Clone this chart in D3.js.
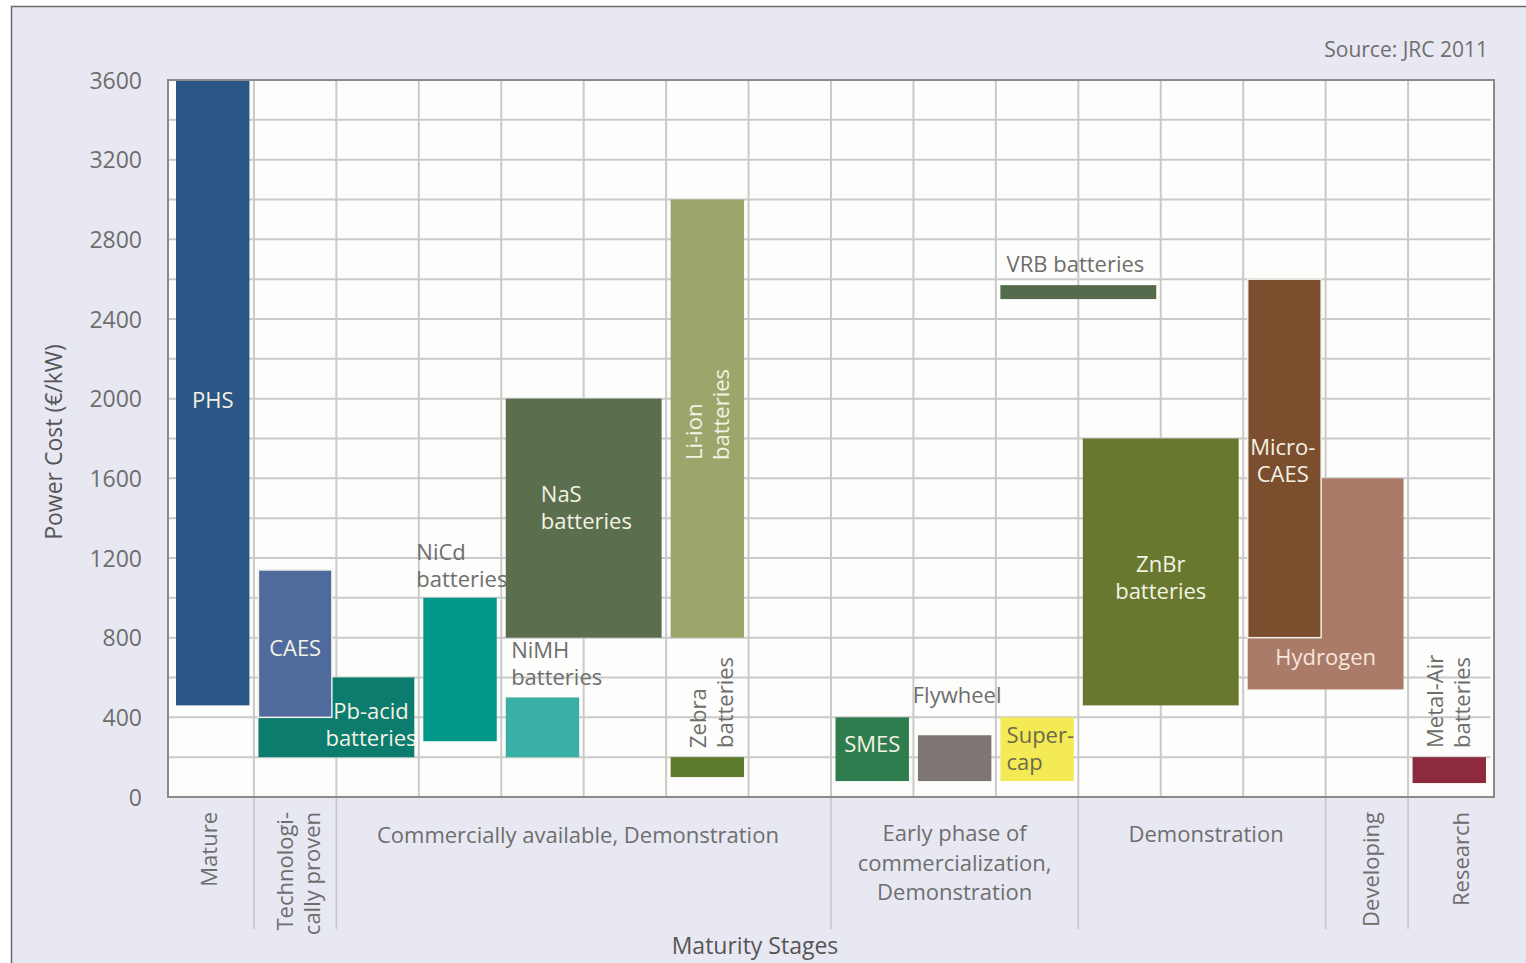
<!DOCTYPE html>
<html>
<head>
<meta charset="utf-8">
<script src="https://cdn.jsdelivr.net/npm/d3@7"></script>
<style>
  html, body { margin: 0; padding: 0; background: #ffffff; }
  svg { display: block; }
  text { font-family: "Open Sans", "Noto Sans", sans-serif; }
</style>
</head>
<body>
<svg id="chart" width="1526" height="963"></svg>
<script>
// Storage technologies: column span on the maturity axis and power-cost range (€/kW)
const techNames = ["PHS", "Pb-acid", "CAES", "NiCd", "NaS", "NiMH", "Li-ion", "Zebra",
  "SMES", "Flywheel", "Supercap", "VRB", "ZnBr", "Hydrogen", "Micro-CAES", "Metal-Air"];
const colStart = [0, 1, 1, 3, 4, 4, 6, 6, 8, 9, 10, 10, 11, 13, 13, 15];
const colEnd   = [1, 3, 2, 4, 6, 5, 7, 7, 9, 10, 11, 12, 13, 15, 14, 16];
const costLow  = [460, 200, 400, 280, 800, 200, 800, 100, 80, 80, 80, 2500, 460, 540, 800, 70];
const costHigh = [3600, 600, 1140, 1000, 2000, 500, 3000, 200, 400, 310, 400, 2570, 1800, 1600, 2600, 200];
const techColors = ["#2b5686", "#0b7c6e", "#4f6a9c", "#00978a", "#5b6e4e", "#3aafa6", "#9ca66a", "#5e7a2c",
  "#2f7d4f", "#7d7673", "#f3ea56", "#566b4c", "#68792f", "#ab7b6a", "#7b4e2e", "#8e2a3e"];

// Cost axis ticks
const costTicks = [0, 400, 800, 1200, 1600, 2000, 2400, 2800, 3200, 3600];
const gridStep = 200;
const columnCount = 16;

// Maturity stages along the bottom: column span and label text
const stageNames = ["Mature", "Technologi-\ncally proven", "Commercially available, Demonstration",
  "Early phase of\ncommercialization,\nDemonstration", "Demonstration", "Developing", "Research"];
const stageStart = [0, 1, 2, 8, 11, 14, 15];
const stageEnd   = [1, 2, 8, 11, 14, 15, 16];

// Label text for each technology
const techLabels = {
  "PHS": "PHS", "CAES": "CAES", "Pb-acid": "Pb-acid\nbatteries", "NiCd": "NiCd\nbatteries",
  "NaS": "NaS\nbatteries", "NiMH": "NiMH\nbatteries", "Li-ion": "Li-ion\nbatteries",
  "Zebra": "Zebra\nbatteries", "SMES": "SMES", "Flywheel": "Flywheel", "Supercap": "Super-\ncap",
  "VRB": "VRB batteries", "ZnBr": "ZnBr\nbatteries", "Micro-CAES": "Micro-\nCAES",
  "Hydrogen": "Hydrogen", "Metal-Air": "Metal-Air\nbatteries"
};

const svg = d3.select("#chart");
const W = 1526, H = 963;
const plot = { left: 171.5, right: 1490.5, top: 80, bottom: 797 };

const x = d3.scaleLinear().domain([0, columnCount]).range([plot.left, plot.right]);
const y = d3.scaleLinear().domain([0, 3600]).range([plot.bottom, plot.top]);

const textGray = "#6e6e6e";
const light = "#f4f2e4";

// Background panel with frame
svg.append("rect").attr("x", 0).attr("y", 0).attr("width", W).attr("height", H).attr("fill", "#ffffff");
svg.append("rect").attr("x", 11.5).attr("y", 6.5).attr("width", W).attr("height", H)
  .attr("fill", "#e8e8f2").attr("stroke", "#6a6a6a").attr("stroke-width", 1.5);

// Plot area
svg.append("rect").attr("x", plot.left - 3.5).attr("y", plot.top)
  .attr("width", plot.right - plot.left + 7).attr("height", plot.bottom - plot.top)
  .attr("fill", "#fdfdfb");

// Grid
const gridColor = "#cacaca";
const gy = svg.append("g");
gy.selectAll("line").data(d3.range(gridStep, 3600, gridStep)).join("line")
  .attr("x1", plot.left - 3.5).attr("x2", plot.right)
  .attr("y1", d => y(d)).attr("y2", d => y(d))
  .attr("stroke", gridColor).attr("stroke-width", 2);
const gx = svg.append("g");
gx.selectAll("line").data(d3.range(1, columnCount)).join("line")
  .attr("x1", d => x(d)).attr("x2", d => x(d))
  .attr("y1", plot.top).attr("y2", plot.bottom)
  .attr("stroke", gridColor).attr("stroke-width", 2);

// Stage separators below the axis
svg.append("g").selectAll("line").data(stageStart.slice(1)).join("line")
  .attr("x1", d => x(d)).attr("x2", d => x(d))
  .attr("y1", plot.bottom).attr("y2", 929)
  .attr("stroke", "#c4c4cc").attr("stroke-width", 1.5);

// Bars
const inset = 4.5;
const bars = techNames.map((n, i) => ({
  name: n, c0: colStart[i], c1: colEnd[i], lo: costLow[i], hi: costHigh[i], color: techColors[i]
}));
svg.append("g").selectAll("rect").data(bars).join("rect")
  .attr("x", d => x(d.c0) + inset)
  .attr("width", d => x(d.c1) - x(d.c0) - 2 * inset)
  .attr("y", d => y(d.hi))
  .attr("height", d => y(d.lo) - y(d.hi))
  .attr("fill", d => d.color)
  .attr("stroke", d => (d.name === "CAES" || d.name === "Micro-CAES") ? "#f2efe8" : "none")
  .attr("stroke-width", 1.5);

// Plot frame
svg.append("rect").attr("x", plot.left - 3.5).attr("y", plot.top)
  .attr("width", plot.right - plot.left + 7).attr("height", plot.bottom - plot.top)
  .attr("fill", "none").attr("stroke", "#8a8a8a").attr("stroke-width", 2);

// Y axis tick labels
const yAxis = d3.axisLeft(y).tickValues(costTicks).tickFormat(d3.format("d")).tickSize(0).tickPadding(0);
const ya = svg.append("g").attr("transform", `translate(142,0)`).call(yAxis);
ya.select(".domain").remove();
ya.selectAll("text").attr("font-size", 23).attr("fill", textGray)
  .attr("font-family", "'Open Sans', sans-serif").attr("dy", "0.35em");

// Axis titles
svg.append("text").attr("transform", `translate(62,442) rotate(-90)`)
  .attr("text-anchor", "middle").attr("font-size", 23).attr("fill", "#555555")
  .text("Power Cost (€/kW)");
svg.append("text").attr("x", 755).attr("y", 954).attr("text-anchor", "middle")
  .attr("font-size", 23).attr("fill", "#555555").text("Maturity Stages");
svg.append("text").attr("x", 1488).attr("y", 57).attr("text-anchor", "end")
  .attr("font-size", 21).attr("fill", textGray).text("Source: JRC 2011");

// Multi-line label helper; (px, py) is the block centre (or start edge for rotated labels)
const lineH = 27;
function label(g, txt, px, py, opts) {
  const lines = txt.split("\n");
  const t = g.append("text")
    .attr("font-size", opts.size || 22)
    .attr("fill", opts.color)
    .attr("text-anchor", opts.anchor || "middle");
  const lh = opts.lineH || lineH;
  const off = -(lines.length - 1) * lh / 2;
  if (opts.rotate) {
    t.attr("transform", `translate(${px},${py}) rotate(-90)`);
    lines.forEach((l, i) => t.append("tspan").attr("x", 0).attr("y", off + i * lh).attr("dy", "0.35em").text(l));
  } else {
    lines.forEach((l, i) => t.append("tspan").attr("x", px).attr("y", py + off + i * lh).attr("dy", "0.35em").text(l));
  }
}

// Technology labels placed in chart coordinates (column, cost)
const labelPlacement = [
  { name: "PHS", c: 0.5, v: 1990, color: light },
  { name: "CAES", c: 1.5, v: 748, color: light },
  { name: "Pb-acid", c: 2.42, v: 361, color: light },
  { name: "NiCd", c: 2.97, v: 1160, color: textGray, anchor: "start" },
  { name: "NaS", c: 4.48, v: 1451, color: light, anchor: "start" },
  { name: "NiMH", c: 4.12, v: 668, color: textGray, anchor: "start" },
  { name: "Li-ion", c: 6.5, v: 1692, color: light, anchor: "start", rotate: true },
  { name: "Zebra", c: 6.55, v: 246, color: textGray, anchor: "start", rotate: true },
  { name: "SMES", c: 8.5, v: 266, color: light },
  { name: "Flywheel", c: 9.53, v: 512, color: textGray },
  { name: "Supercap", c: 10.13, v: 241, color: "#6d6a4a", anchor: "start" },
  { name: "VRB", c: 10.13, v: 2676, color: textGray, anchor: "start" },
  { name: "ZnBr", c: 12.0, v: 1100, color: light },
  { name: "Micro-CAES", c: 13.48, v: 1687, color: light },
  { name: "Hydrogen", c: 14.0, v: 703, color: "#f6e6da" },
  { name: "Metal-Air", c: 15.5, v: 246, color: textGray, anchor: "start", rotate: true }
];
const lg = svg.append("g");
labelPlacement.forEach(p => {
  label(lg, techLabels[p.name], x(p.c), y(p.v), { color: p.color, anchor: p.anchor, rotate: p.rotate });
});

// Maturity stage labels
const stageLayout = [
  { rotate: true, dc: -0.04 },
  { rotate: true, dc: 0.04 },
  { rotate: false, dc: -0.07, yc: 835 },
  { rotate: false, dc: 0, yc: 863, lineH: 29.5 },
  { rotate: false, dc: 0.05, yc: 834 },
  { rotate: true, dc: 0.06 },
  { rotate: true, dc: 0.15 }
];
const sg = svg.append("g");
stageNames.forEach((s, i) => {
  const cx = x((stageStart[i] + stageEnd[i]) / 2 + stageLayout[i].dc);
  if (stageLayout[i].rotate) {
    label(sg, s, cx, 812, { color: textGray, anchor: "end", rotate: true });
  } else {
    label(sg, s, cx, stageLayout[i].yc, { color: textGray, lineH: stageLayout[i].lineH });
  }
});
</script>
</body>
</html>
